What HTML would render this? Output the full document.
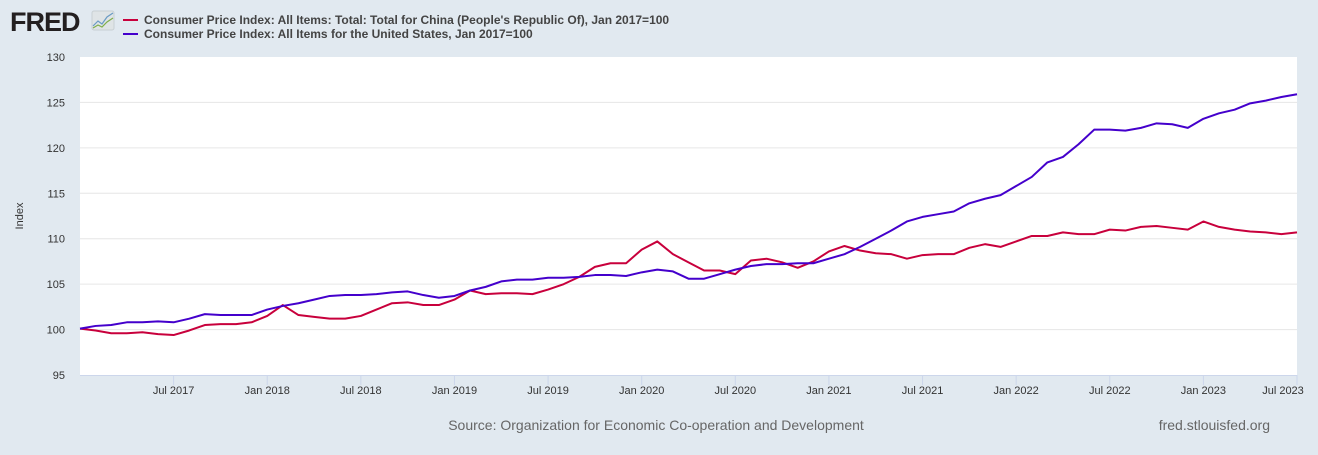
<!DOCTYPE html>
<html><head><meta charset="utf-8"><style>
body{margin:0;background:#e1e9f0;width:1318px;height:450px;overflow:hidden;font-family:"Liberation Sans",Arial,sans-serif}
</style></head><body>
<svg id="chart" width="1318" height="450" xmlns="http://www.w3.org/2000/svg" font-family="Liberation Sans, Arial, sans-serif">
<rect width="1318" height="450" fill="#e1e9f0"/>
<g>
<text x="10" y="31" font-size="27" font-weight="bold" fill="#231f20" letter-spacing="-1">FRED</text>
<rect x="92" y="11" width="22" height="19" rx="2" fill="#dfe4e6" stroke="#c8cfd3"/>
<polyline points="93,26 98,21 102,24 107,17 113,13" fill="none" stroke="#6a9bc4" stroke-width="1.2"/>
<polyline points="93,28 98,25 102,27 107,22 113,18" fill="none" stroke="#7fae4a" stroke-width="1.2"/>
</g>
<g>
<g><line x1="123" y1="20" x2="138" y2="20" stroke="#c8003c" stroke-width="2"/><text x="144" y="24" font-size="12" font-weight="bold" fill="#444">Consumer Price Index: All Items: Total: Total for China (People's Republic Of), Jan 2017=100</text></g>
<g><line x1="123" y1="34" x2="138" y2="34" stroke="#4400cc" stroke-width="2"/><text x="144" y="38" font-size="12" font-weight="bold" fill="#444">Consumer Price Index: All Items for the United States, Jan 2017=100</text></g>
</g>
<rect x="80" y="57" width="1217" height="318" fill="#fff"/>
<g id="grid"></g><g id="xaxis"></g><g id="yaxis"></g><g id="series"></g>
<text x="0" y="0" transform="translate(23,216) rotate(-90)" text-anchor="middle" font-size="11" fill="#333">Index</text>
<text x="656" y="430" text-anchor="middle" font-size="14" fill="#666">Source: Organization for Economic Co-operation and Development</text>
<text x="1270" y="430" text-anchor="end" font-size="14" fill="#666">fred.stlouisfed.org</text>
</svg>
<script>
const yTicks=[95,100,105,110,115,120,125,130];
const xTickLabels=["Jul 2017","Jan 2018","Jul 2018","Jan 2019","Jul 2019","Jan 2020","Jul 2020","Jan 2021","Jul 2021","Jan 2022","Jul 2022","Jan 2023","Jul 2023"];
const xTickMonths=[6,12,18,24,30,36,42,48,54,60,66,72,78];
const china=[100.1,99.9,99.6,99.6,99.7,99.5,99.4,99.9,100.5,100.6,100.6,100.8,101.5,102.7,101.6,101.4,101.2,101.2,101.5,102.2,102.9,103.0,102.7,102.7,103.3,104.3,
103.9,104.0,104.0,103.9,104.4,105.0,105.8,106.9,107.3,107.3,108.8,109.7,108.3,107.4,106.5,106.5,106.1,107.6,107.8,107.4,106.8,107.5,108.6,109.2,108.7,108.4,108.3,
107.8,108.2,108.3,108.3,109.0,109.4,109.1,109.7,110.3,110.3,110.7,110.5,110.5,111.0,110.9,111.3,111.4,111.2,111.0,111.9,111.3,111.0,110.8,110.7,110.5,110.7];
const us=[100.1,100.4,100.5,100.8,100.8,100.9,100.8,101.2,101.7,101.6,101.6,101.6,102.2,102.6,102.9,103.3,103.7,103.8,103.8,103.9,104.1,104.2,103.8,103.5,103.7,104.3,
104.7,105.3,105.5,105.5,105.7,105.7,105.8,106.0,106.0,105.9,106.3,106.6,106.4,105.6,105.6,106.1,106.6,107.0,107.2,107.2,107.3,107.3,107.8,108.3,109.1,110.0,110.9,
111.9,112.4,112.7,113.0,113.9,114.4,114.8,115.8,116.8,118.4,119.0,120.4,122.0,122.0,121.9,122.2,122.7,122.6,122.2,123.2,123.8,124.2,124.9,125.2,125.6,125.9];
const NS="http://www.w3.org/2000/svg";
const X0=80,X1=1297,Y0=375,Y1=57;
const xs=m=>X0+(X1-X0)*m/78;
const ys=v=>Y0-(Y0-Y1)*(v-95)/35;
function mk(t,a,p){const e=document.createElementNS(NS,t);for(const k in a)e.setAttribute(k,a[k]);p.appendChild(e);return e;}
const grid=document.getElementById('grid'),ya=document.getElementById('yaxis'),xa=document.getElementById('xaxis'),ser=document.getElementById('series');
yTicks.forEach(v=>{
 if(v>95&&v<130){const g=mk('line',{x1:X0,x2:X1,y1:ys(v),y2:ys(v),stroke:'#e6e6e6','stroke-width':1},grid);
 
 }
 const t=mk('text',{x:65,y:ys(v)+4,'text-anchor':'end','font-size':11,fill:'#333'},ya);t.textContent=v;
 
 
});
const ax=mk('line',{x1:X0,x2:X1,y1:Y0+0.5,y2:Y0+0.5,stroke:'#ccd6eb','stroke-width':1},xa);


xTickLabels.forEach((lab,i)=>{
 const x=xs(xTickMonths[i]);
 const tk=mk('line',{x1:x,x2:x,y1:Y0,y2:Y0+10,stroke:'#ccd6eb'},xa);
 
 
 let tx=x; if(i===xTickLabels.length-1) tx=Math.min(x,1283);
 const t=mk('text',{x:tx,y:Y0+19,'text-anchor':'middle','font-size':11,fill:'#333'},xa);t.textContent=lab;
 
 
});
function line(arr,col,name){
 const p=mk('polyline',{points:arr.map((v,i)=>xs(i)+','+ys(v)).join(' '),fill:'none',stroke:col,'stroke-width':2,'stroke-linejoin':'round'},ser);
 
 
}
line(china,'#c8003c','series-china');
line(us,'#4400cc','series-us');
</script>
</body></html>
